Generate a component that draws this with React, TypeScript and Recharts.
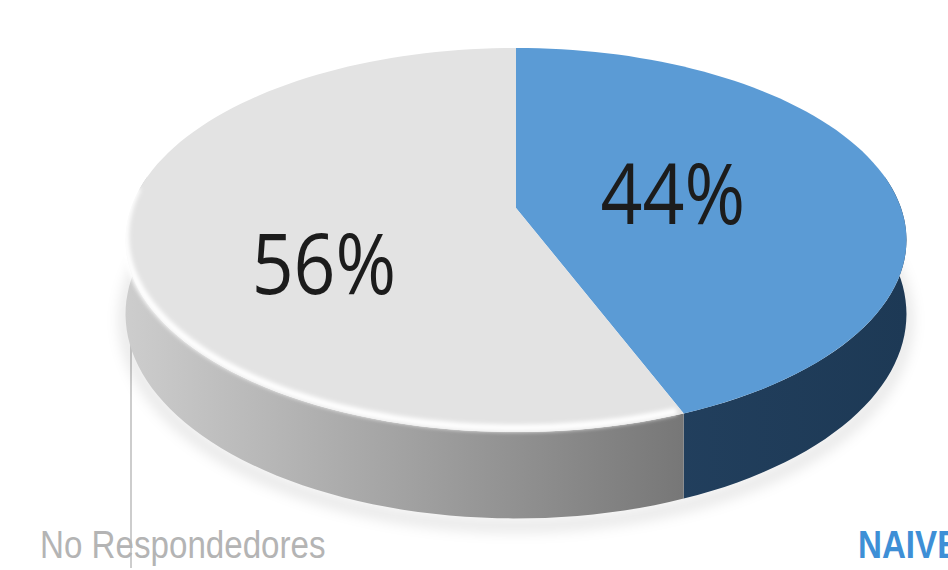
import React from 'react';
import { PieChart, Pie } from 'recharts';

const SEGMENTS = ['NAIVE', 'No Respondedores'];
const SHARES = [44, 56];

const TOP_COLORS = ['#5b9bd5', '#e3e3e3'];
const SIDE_STOPS = [
  ['#2c4d70', '#1d3955'],
  ['#cdcdcd', '#767676'],
];
const NAME_COLORS = ['#3e8fd6', '#b4b4b4'];

const data = SEGMENTS.map((name, i) => ({ name, value: SHARES[i] }));

// perspective of the tilted disc
const RX = 385;
const RY = 186.7;
const PERSP = -1 / 6;
const DEPTH = 72;

const proj = (cx: number, cy: number, deg: number, r = 1, dz = 0) => {
  const a = (deg * Math.PI) / 180;
  const u = r * Math.cos(a);
  const v = -r * Math.sin(a);
  const d = 1 + PERSP * v;
  return [cx + (RX * u) / d, cy + (RY * v + dz) / d];
};

const arcPts = (cx: number, cy: number, from: number, to: number, dz = 0) => {
  const n = Math.max(2, Math.ceil(Math.abs(to - from) / 2));
  const pts: number[][] = [];
  for (let k = 0; k <= n; k++) pts.push(proj(cx, cy, from + ((to - from) * k) / n, 1, dz));
  return pts;
};

const toPath = (pts: number[][]) => pts.map((p, i) => `${i ? 'L' : 'M'}${p[0].toFixed(1)},${p[1].toFixed(1)}`).join(' ');

const DiscSlice = (props: any) => {
  const { cx, cy, startAngle, endAngle, index } = props;
  const top = [[cx, cy], ...arcPts(cx, cy, startAngle, endAngle)];
  const hi = Math.min(startAngle, 10);
  const lo = Math.max(endAngle, -190);
  const gid = `side-${index}`;
  let side = null;
  let rim = null;
  if (hi > lo) {
    const upper = arcPts(cx, cy, hi, lo);
    const lower = arcPts(cx, cy, lo, hi, DEPTH);
    side = <path d={toPath([...upper, ...lower]) + ' Z'} fill={`url(#${gid})`} />;
    if (index === 1) {
      rim = (
        <path d={toPath(arcPts(cx, cy, Math.max(lo, -185), hi - 1, 0))} fill="none" stroke="#ffffff"
          strokeWidth={7} filter="url(#soft)" transform="translate(0,-4)" />
      );
    }
  }
  return (
    <g>
      <defs>
        <linearGradient id={gid} gradientUnits="userSpaceOnUse" x1={125} y1={0} x2={index === 1 ? 690 : 910} y2={0}>
          <stop offset="0%" stopColor={SIDE_STOPS[index][0]} />
          <stop offset="100%" stopColor={SIDE_STOPS[index][1]} />
        </linearGradient>
        <filter id="soft" x="-10%" y="-10%" width="120%" height="120%">
          <feGaussianBlur stdDeviation="2" />
        </filter>
        <filter id="shadow" x="-20%" y="-20%" width="140%" height="140%">
          <feGaussianBlur stdDeviation="7" />
        </filter>
      </defs>
      {index === 0 && (
        <path d={toPath(arcPts(cx, cy, 20, -200, DEPTH + 6))} fill="none" stroke="#000" strokeOpacity={0.12}
          strokeWidth={10} filter="url(#shadow)" />
      )}
      {side}
      <path d={toPath(top) + ' Z'} fill={TOP_COLORS[index]} />
      {rim}
    </g>
  );
};

const LABEL_LAYOUT = [
  { r: 0.42, dy: 0 },
  { r: 0.5, dy: 38 },
];
const NAME_LAYOUT = [
  { x: 858, y: 558, weight: 600 },
  { x: 40, y: 558, weight: 400 },
];

const renderLabel = (props: any) => {
  const { cx, cy, midAngle, percent, index, name } = props;
  const lay = LABEL_LAYOUT[index];
  const [x, y] = proj(cx, cy, midAngle, lay.r);
  const fs = 84;
  const nl = NAME_LAYOUT[index];
  return (
    <g>
      <text x={x} y={y + lay.dy + fs * 0.36} textAnchor="middle" fontFamily="'Open Sans', sans-serif" fontSize={fs}
        fill="#1c1c1c" textLength={fs * 1.72} lengthAdjust="spacingAndGlyphs">
        {`${Math.round(percent * 100)}%`}
      </text>
      <text transform={`translate(${nl.x},${nl.y}) scale(0.85,1)`} x={0} y={0} fontFamily="'Liberation Sans', Arial, sans-serif"
        fontSize={39} fontWeight={nl.weight} fill={NAME_COLORS[index]}>
        {name}
      </text>
    </g>
  );
};

export default function App() {
  return (
    <div style={{ position: 'absolute', left: 0, top: 0, width: 948, height: 570, background: '#fff', overflow: 'hidden' }}>
      <PieChart width={948} height={570} margin={{ top: 0, right: 0, bottom: 0, left: 0 }}>
        <Pie
          data={data}
          dataKey="value"
          nameKey="name"
          cx={516}
          cy={208}
          outerRadius={160}
          startAngle={90}
          endAngle={-270}
          stroke="none"
          shape={DiscSlice}
          activeShape={DiscSlice}
          inactiveShape={DiscSlice}
          label={renderLabel}
          labelLine={false}
          isAnimationActive={false}
        />
        <line x1={131} y1={283} x2={131} y2={568} stroke="#bdbdbd" strokeWidth={1.5} />
      </PieChart>
    </div>
  );
}
